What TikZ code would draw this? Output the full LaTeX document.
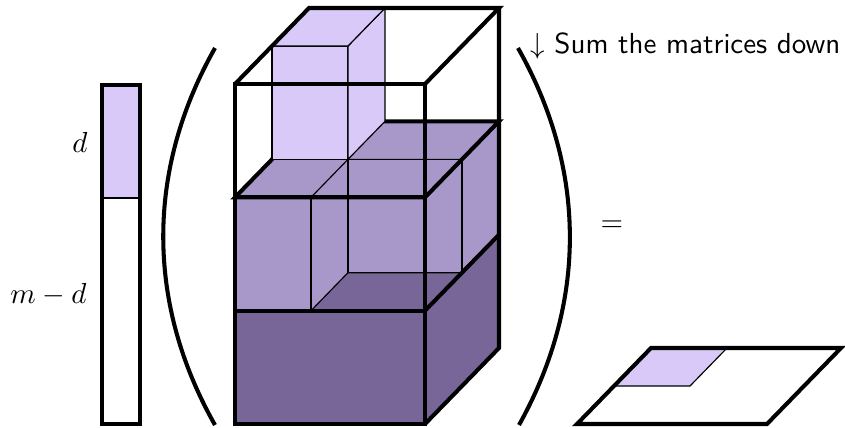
\documentclass[tikz,border=0pt]{standalone}
\definecolor{lightp}{RGB}{217,201,248}
\definecolor{midp}{RGB}{168,151,201}
\definecolor{darkp}{RGB}{120,102,153}
\begin{document}
\begin{tikzpicture}[x=0.345pt,y=-0.345pt,
  thickl/.style={line width=1.4pt},
  thinl/.style={line width=0.4pt},
  lbl/.style={anchor=base east,inner sep=0pt}]
\useasboundingbox (0,0) rectangle (845,427);

% vector
\coordinate (vtl) at (102,85);
\coordinate (vmr) at (140,198);
\coordinate (vml) at (102,198);
\coordinate (vbr) at (140,424);
\fill[lightp] (vtl) rectangle (vmr);
\draw[thinl] (vml) -- (vmr);
\draw[thickl] (vtl) rectangle (vbr);
\node[lbl] (ld) at (88,152) {$d$};
\node[lbl] (lmd) at (87,303) {$m-d$};

% parentheses
\coordinate (lpt) at (215,48);
\coordinate (lpb) at (215,425);
\coordinate (rpt) at (518,48);
\coordinate (rpb) at (519,425);
\draw[thickl] (lpt) .. controls (146,170) and (146,303) .. (lpb);
\draw[thickl] (rpt) .. controls (587,170) and (587,303) .. (rpb);

% cube
\begin{scope}[shift={(235,424)},x={(65.55pt,0pt)},y={(25.53pt,26.22pt)},z={(0pt,39.1pt)}]
  % bottom layer
  \fill[darkp] (0,0,0) -- (1,0,0) -- (1,0,1) -- (0,0,1) -- cycle;
  \fill[darkp] (1,0,0) -- (1,1,0) -- (1,1,1) -- (1,0,1) -- cycle;
  \fill[darkp] (0,0,1) -- (1,0,1) -- (1,1,1) -- (0,1,1) -- cycle;
  % middle layer
  \fill[midp] (0,0,1) -- (0.4,0,1) -- (0.4,0,2) -- (0,0,2) -- cycle;
  \fill[midp] (0.4,0,1) -- (0.4,0.5,1) -- (0.4,0.5,2) -- (0.4,0,2) -- cycle;
  \fill[midp] (0.4,0.5,1) -- (1,0.5,1) -- (1,0.5,2) -- (0.4,0.5,2) -- cycle;
  \fill[midp] (1,0.5,1) -- (1,1,1) -- (1,1,2) -- (1,0.5,2) -- cycle;
  \fill[midp] (0,0,2) -- (0.4,0,2) -- (0.4,0.5,2) -- (1,0.5,2) -- (1,1,2) -- (0,1,2) -- cycle;
  \draw[thinl] (0.4,0,1) -- (0.4,0,2);
  \draw[thinl] (0.4,0,1) -- (0.4,0.5,1) -- (1,0.5,1);
  \draw[thinl] (0.4,0.5,1) -- (0.4,0.5,2);
  \draw[thinl] (1,0.5,1) -- (1,0.5,2);
  \draw[thinl] (0.4,0,2) -- (0.4,0.5,2) -- (1,0.5,2);
  \draw[thickl] (0,0,2) -- (1,0,2) -- (1,1,2) -- (0,1,2) -- cycle;
  % light column
  \filldraw[fill=lightp,thinl] (0,0.5,2) -- (0.4,0.5,2) -- (0.4,0.5,3) -- (0,0.5,3) -- cycle;
  \filldraw[fill=lightp,thinl] (0.4,0.5,2) -- (0.4,1,2) -- (0.4,1,3) -- (0.4,0.5,3) -- cycle;
  \filldraw[fill=lightp,thinl] (0,0.5,3) -- (0.4,0.5,3) -- (0.4,1,3) -- (0,1,3) -- cycle;
  % thick frame
  \draw[thickl] (0,0,0) -- (1,0,0) -- (1,0,3) -- (0,0,3) -- cycle;
  \draw[thickl] (0,0,1) -- (1,0,1);
  \draw[thickl] (0,0,2) -- (1,0,2);
  \draw[thickl] (1,0,0) -- (1,1,0) -- (1,1,3);
  \draw[thickl] (1,0,1) -- (1,1,1);
  \draw[thickl] (1,0,3) -- (1,1,3) -- (0,1,3) -- (0,0,3);
\end{scope}

% result matrix
\begin{scope}[shift={(577,424)},x={(65.55pt,0pt)},y={(25.53pt,26.22pt)}]
  \filldraw[fill=lightp,thinl] (0,0.5) -- (0.4,0.5) -- (0.4,1) -- (0,1) -- cycle;
  \draw[thickl] (0,0) -- (1,0) -- (1,1) -- (0,1) -- cycle;
\end{scope}

\node (eq) at (612,226) {$=$};
\node[lbl] (sum) at (841,53) {$\downarrow$ \textsf{Sum the matrices down}};
\end{tikzpicture}
\end{document}
